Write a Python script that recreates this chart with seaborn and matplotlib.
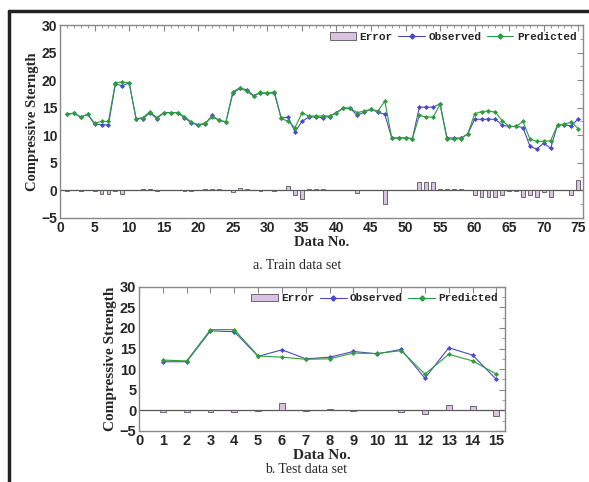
import numpy as np
import pandas as pd
import matplotlib
matplotlib.use("Agg")
import matplotlib.pyplot as plt
import seaborn as sns
from matplotlib.patches import Patch
from matplotlib.lines import Line2D
from matplotlib.ticker import MultipleLocator

# Train data set (75 samples)
train_no = list(range(1, 76))
train_observed = [13.8, 14.0, 13.3, 13.8, 12.0, 11.9, 11.9, 19.3, 19.0, 19.5,
                  13.0, 13.0, 14.1, 13.0, 14.1, 14.1, 14.1, 13.2, 12.2, 11.9,
                  12.1, 13.6, 12.7, 12.4, 17.6, 18.5, 18.3, 17.2, 17.7, 17.6,
                  17.7, 13.1, 13.3, 10.6, 12.5, 13.3, 13.3, 13.2, 13.4, 14.1,
                  14.9, 14.9, 13.6, 14.2, 14.7, 14.2, 13.8, 9.5, 9.5, 9.5,
                  9.4, 15.1, 15.1, 15.1, 15.7, 9.5, 9.5, 9.5, 10.2, 12.9,
                  12.9, 12.9, 12.9, 11.8, 11.6, 11.6, 11.4, 8.0, 7.5, 8.6,
                  7.6, 11.9, 11.9, 11.7, 13.0]
train_predicted = [13.8, 14.0, 13.3, 13.8, 12.2, 12.5, 12.5, 19.5, 19.7, 19.5,
                   13.0, 13.2, 14.3, 13.2, 14.1, 14.1, 14.1, 13.4, 12.4, 11.9,
                   12.2, 13.3, 12.8, 12.4, 17.9, 18.6, 18.0, 17.1, 17.8, 17.6,
                   17.9, 13.1, 12.5, 11.4, 14.0, 13.5, 13.5, 13.5, 13.5, 14.1,
                   15.0, 14.9, 14.1, 14.4, 14.7, 14.4, 16.2, 9.5, 9.5, 9.5,
                   9.4, 13.6, 13.3, 13.3, 15.6, 9.3, 9.3, 9.4, 10.2, 13.9,
                   14.3, 14.4, 14.2, 12.6, 11.6, 11.6, 12.5, 9.3, 8.9, 8.9,
                   9.0, 11.9, 12.0, 12.4, 11.2]
train_error = [-0.1, 0.1, -0.1, 0.0, -0.2, -0.6, -0.6, -0.2, -0.7, 0.0,
               0.0, 0.2, 0.2, -0.2, 0.0, 0.0, 0.0, -0.2, -0.2, 0.0,
               0.2, 0.3, 0.3, 0.1, -0.3, 0.4, 0.3, 0.1, -0.1, 0.0,
               -0.1, 0.0, 0.8, -0.8, -1.5, 0.3, 0.3, 0.3, 0.1, 0.0,
               0.1, 0.0, -0.5, 0.0, 0.1, 0.0, -2.4, 0.0, 0.0, 0.0,
               0.0, 1.5, 1.5, 1.5, 0.2, 0.2, 0.2, 0.2, 0.0, -0.9,
               -1.2, -1.3, -1.2, -0.8, -0.2, -0.2, -1.3, -0.8, -1.2, -0.3,
               -1.3, 0.1, 0.1, -0.8, 1.8]

# Test data set (15 samples)
test_no = list(range(1, 16))
test_observed = [11.8, 11.8, 19.3, 19.1, 13.1, 14.7, 12.5, 12.9, 14.3, 13.7,
                 14.8, 7.8, 15.2, 13.4, 7.5]
test_predicted = [12.2, 12.0, 19.6, 19.6, 13.2, 12.9, 12.4, 12.5, 13.9, 13.8,
                  14.5, 8.8, 13.6, 12.0, 8.8]
test_error = [-0.5, -0.3, -0.4, -0.5, -0.1, 1.8, -0.2, 0.2, -0.1, 0.0,
              -0.4, -1.0, 1.2, 1.0, -1.3]

obs_color = "#4a4ac8"
pred_color = "#2e9e3a"
bar_color = "#d9c2e2"
spine_color = "#888888"

sns.set_style("white")


def draw_panel(ax, no, obs, pred, err, xmax, xmajor, xminor, ylabel,
               bar_width, tick_size, label_size):
    df = pd.DataFrame({"no": no, "obs": obs, "pred": pred, "err": err})
    sns.barplot(data=df, x="no", y="err", native_scale=True, width=bar_width,
                color=bar_color, edgecolor="#555555", linewidth=0.6,
                saturation=1, ax=ax, zorder=2)
    ax.axhline(0, color="#555555", lw=0.9, zorder=1)
    sns.lineplot(data=df, x="no", y="obs", color=obs_color, lw=0.8,
                 marker="D", markersize=2.6, markeredgewidth=0, ax=ax, zorder=3)
    sns.lineplot(data=df, x="no", y="pred", color=pred_color, lw=0.8,
                 marker="D", markersize=2.6, markeredgewidth=0, ax=ax, zorder=4)
    ax.set_xlim(0, xmax)
    ax.set_ylim(-5, 30)
    ax.xaxis.set_major_locator(MultipleLocator(xmajor))
    ax.xaxis.set_minor_locator(MultipleLocator(xminor))
    ax.yaxis.set_major_locator(MultipleLocator(5))
    ax.yaxis.set_minor_locator(MultipleLocator(2.5))
    ax.tick_params(which="both", direction="in", top=True, right=True,
                   color=spine_color, pad=2)
    ax.tick_params(which="major", length=4)
    ax.tick_params(which="minor", length=2)
    for s in ax.spines.values():
        s.set_color(spine_color)
        s.set_linewidth(1.0)
    for lab in ax.get_xticklabels() + ax.get_yticklabels():
        lab.set_fontfamily("Liberation Sans")
        lab.set_fontweight("bold")
        lab.set_fontsize(tick_size)
    lf = {"family": "Liberation Serif", "weight": "bold", "size": label_size}
    ax.set_xlabel("Data No.", fontdict=lf, labelpad=1)
    ax.set_ylabel(ylabel, fontdict=lf, labelpad=2)
    handles = [Patch(facecolor=bar_color, edgecolor="#555555", lw=0.6),
               Line2D([], [], color=obs_color, lw=0.8, marker="D", markersize=2.6),
               Line2D([], [], color=pred_color, lw=0.8, marker="D", markersize=2.6)]
    ax.legend(handles, ["Error", "Observed", "Predicted"], loc="upper right",
              ncol=3, frameon=False, handlelength=2.4, columnspacing=0.5,
              handletextpad=0.3, borderaxespad=0.2,
              prop={"family": "Liberation Mono", "weight": "bold", "size": 8})


fig = plt.figure(figsize=(5.89, 4.82), dpi=100)
ax1 = fig.add_axes([0.102, 0.548, 0.888, 0.400])
ax2 = fig.add_axes([0.236, 0.106, 0.621, 0.299])

draw_panel(ax1, train_no, train_observed, train_predicted, train_error,
           75.7, 5, 1, "Compressive Sterngth", 0.55, 10, 10.5)
draw_panel(ax2, test_no, test_observed, test_predicted, test_error,
           15.35, 1, 1, "Compressive Strength", 0.25, 10.5, 11)

fig.text(0.505, 0.45, "a. Train data set", ha="center", va="center",
         family="Liberation Serif", fontsize=10)
fig.text(0.52, 0.025, "b. Test data set", ha="center", va="center",
         family="Liberation Serif", fontsize=10)

# outer frame lines of the scanned figure
fig.add_artist(Line2D([0.016, 1.0], [0.977, 0.977], color="#222222", lw=2.5))
fig.add_artist(Line2D([0.016, 0.016], [0.0, 0.977], color="#222222", lw=2.5))

fig.savefig("out.png", dpi=100)
